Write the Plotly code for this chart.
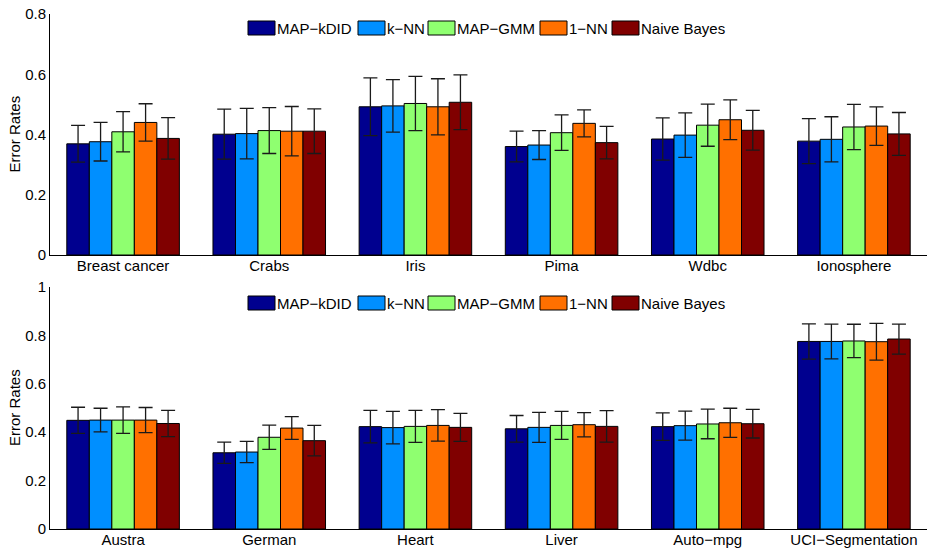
import plotly.graph_objects as go

methods = ["MAP−kDID", "k−NN", "MAP−GMM", "1−NN", "Naive Bayes"]
colors = ["#00008F", "#008FFF", "#8FFF70", "#FF7000", "#800000"]

cats_top = ["Breast cancer", "Crabs", "Iris", "Pima", "Wdbc", "Ionosphere"]
vals_top = {
    "MAP−kDID":    [0.369, 0.401, 0.492, 0.360, 0.385, 0.378],
    "k−NN":        [0.376, 0.403, 0.495, 0.365, 0.398, 0.384],
    "MAP−GMM":     [0.409, 0.413, 0.503, 0.406, 0.431, 0.425],
    "1−NN":        [0.440, 0.411, 0.492, 0.437, 0.449, 0.428],
    "Naive Bayes": [0.387, 0.411, 0.507, 0.373, 0.414, 0.402],
}
err_top = {
    "MAP−kDID":    [0.061, 0.083, 0.096, 0.051, 0.070, 0.075],
    "k−NN":        [0.064, 0.084, 0.087, 0.048, 0.074, 0.075],
    "MAP−GMM":     [0.067, 0.076, 0.090, 0.059, 0.070, 0.075],
    "1−NN":        [0.062, 0.082, 0.093, 0.045, 0.066, 0.064],
    "Naive Bayes": [0.069, 0.074, 0.091, 0.054, 0.066, 0.071],
}
ticks_top = [0, 0.2, 0.4, 0.6, 0.8]

cats_bot = ["Austra", "German", "Heart", "Liver", "Auto−mpg", "UCI−Segmentation"]
vals_bot = {
    "MAP−kDID":    [0.449, 0.315, 0.423, 0.414, 0.423, 0.775],
    "k−NN":        [0.450, 0.318, 0.419, 0.420, 0.427, 0.775],
    "MAP−GMM":     [0.450, 0.379, 0.424, 0.428, 0.434, 0.777],
    "1−NN":        [0.450, 0.417, 0.428, 0.431, 0.439, 0.774],
    "Naive Bayes": [0.436, 0.365, 0.420, 0.424, 0.435, 0.785],
}
err_bot = {
    "MAP−kDID":    [0.054, 0.044, 0.067, 0.055, 0.057, 0.073],
    "k−NN":        [0.049, 0.044, 0.067, 0.062, 0.060, 0.072],
    "MAP−GMM":     [0.055, 0.050, 0.066, 0.058, 0.061, 0.069],
    "1−NN":        [0.052, 0.047, 0.065, 0.050, 0.060, 0.076],
    "Naive Bayes": [0.054, 0.063, 0.058, 0.065, 0.059, 0.062],
}
ticks_bot = [0, 0.2, 0.4, 0.6, 0.8, 1]

y_title = "Error Rates"

FONT = "Liberation Sans, Arial, Helvetica, sans-serif"

# Screen geometry (pixels); body margin is removed so figure fills the window.
W, H = 929, 550
SCR_L, SCR_R, SCR_T, SCR_B = 50, 927, 14, 529
ML, MT = SCR_L, SCR_T
MR, MB = W - SCR_R, H - SCR_B


def px_x(px):
    return (px - SCR_L) / (SCR_R - SCR_L)


def px_y(py):
    return (SCR_B - py) / (SCR_B - SCR_T)


fig = go.Figure()
for m, c in zip(methods, colors):
    fig.add_trace(go.Bar(
        x=cats_top, y=vals_top[m], name=m, showlegend=False,
        marker=dict(color=c, line=dict(color="black", width=1)),
        error_y=dict(type="data", array=err_top[m], color="#1a1a1a", thickness=1.3, width=7),
        xaxis="x", yaxis="y", offsetgroup=m,
    ))
for m, c in zip(methods, colors):
    fig.add_trace(go.Bar(
        x=cats_bot, y=vals_bot[m], name=m, showlegend=False,
        marker=dict(color=c, line=dict(color="black", width=1)),
        error_y=dict(type="data", array=err_bot[m], color="#1a1a1a", thickness=1.3, width=7),
        xaxis="x2", yaxis="y2", offsetgroup=m,
    ))

# Legend drawn as boxes + labels (MATLAB style wide swatches)
legend_swatch_px = [248, 358, 428, 540, 612]
SW_W, SW_H = 27, 14
for legend_top in (21, 296):
    for m, c, sx in zip(methods, colors, legend_swatch_px):
        fig.add_shape(type="rect", xref="paper", yref="paper",
                      x0=px_x(sx), x1=px_x(sx + SW_W),
                      y0=px_y(legend_top + SW_H), y1=px_y(legend_top),
                      fillcolor=c, line=dict(color="black", width=1))
        fig.add_annotation(text=m, xref="paper", yref="paper",
                           x=px_x(sx + SW_W), y=px_y(legend_top + SW_H / 2),
                           xanchor="left", yanchor="middle", showarrow=False,
                           font=dict(size=15, color="black", family=FONT))

# Y-axis titles
for yc in ((14 + 255) / 2, (287 + 529) / 2):
    fig.add_annotation(text=y_title, xref="paper", yref="paper",
                       x=px_x(14), y=px_y(yc), xanchor="center", yanchor="middle",
                       textangle=-90, showarrow=False,
                       font=dict(size=15, color="black", family=FONT))

axis_common = dict(showgrid=False, zeroline=False, showline=True, linecolor="black", linewidth=1,
                   automargin=False, ticklabeloverflow="allow",
                   tickfont=dict(size=15, color="black", family=FONT))

fig.update_layout(
    width=W, height=H,
    margin=dict(l=ML, r=MR, t=MT, b=MB),
    paper_bgcolor="white", plot_bgcolor="white",
    barmode="group", bargap=0.23, bargroupgap=0,
    font=dict(family=FONT, color="black", size=15),
    hovermode=False,
    xaxis=dict(domain=[0, 1], anchor="y", range=[-0.5, 5.5], ticks="", ticklabelstandoff=-3, **axis_common),
    yaxis=dict(domain=[px_y(255), 1], anchor="x", range=[0, 0.8], tickvals=ticks_top,
               ticktext=[f"{v:g}" for v in ticks_top], ticks="", **axis_common),
    xaxis2=dict(domain=[0, 1], anchor="y2", range=[-0.5, 5.5], ticks="", ticklabelstandoff=-3, **axis_common),
    yaxis2=dict(domain=[0, px_y(287)], anchor="x2", range=[0, 1], tickvals=ticks_bot,
                ticktext=[f"{v:g}" for v in ticks_bot], ticks="", **axis_common),
)

fig.write_html("out.html", config={"displayModeBar": False},
               post_script="document.body.style.margin='0px';document.body.style.overflow='hidden';")
